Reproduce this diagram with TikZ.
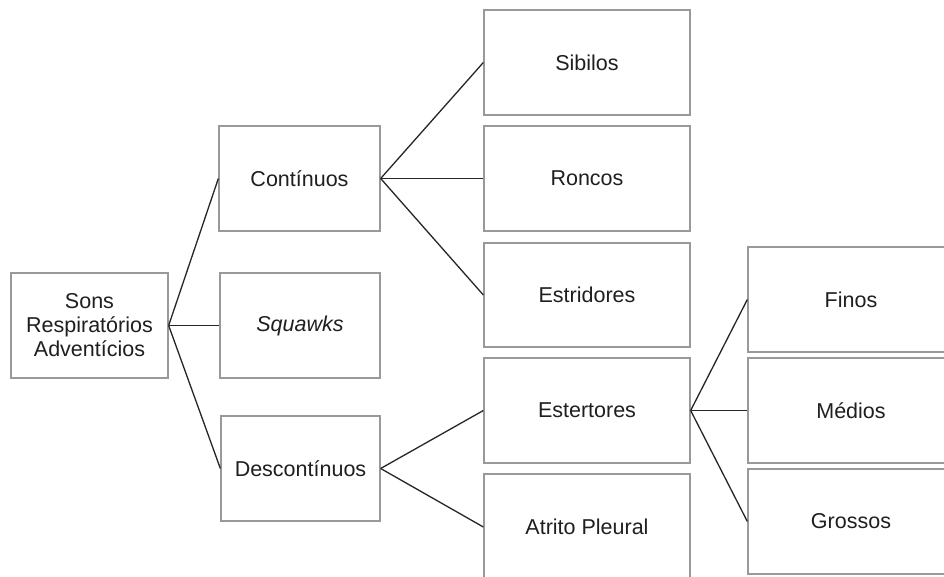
\documentclass[tikz,border=0pt]{standalone}
\usepackage{fontspec}
\setmainfont{Liberation Sans}
\begin{document}
\begin{tikzpicture}[x=1pt,y=-1pt,
  box/.style={draw=black!40,line width=1.3pt,fill=white,inner sep=0pt,align=center,
    font=\fontsize{21.5}{24}\selectfont,text=black!88},
  link/.style={draw=black!85,line width=1.3pt}]
\clip (0,0) rectangle (944,577);
\fill[white] (0,0) rectangle (944,577);
% nodes
\node[box,minimum width=157pt,minimum height=105pt] (root) at (89.5,325.5) {Sons\\Respiratórios\\Adventícios};
\node[box,minimum width=161pt,minimum height=105pt] (cont) at (299.5,178.5) {Contínuos};
\node[box,minimum width=160pt,minimum height=105pt] (squ) at (300,325.5) {\itshape Squawks};
\node[box,minimum width=159pt,minimum height=105pt] (desc) at (300.5,468.5) {Descontínuos};
\node[box,minimum width=206pt,minimum height=105pt] (sib) at (587,62.5) {Sibilos};
\node[box,minimum width=206pt,minimum height=105pt] (ron) at (587,178.5) {Roncos};
\node[box,minimum width=206pt,minimum height=104pt] (estr) at (587,295) {Estridores};
\node[box,minimum width=206pt,minimum height=105pt] (este) at (587,410.5) {Estertores};
\node[box,minimum width=206pt,minimum height=106pt] (atr) at (587,527) {Atrito Pleural};
\node[box,minimum width=206pt,minimum height=105pt] (fin) at (851,299.5) {Finos};
\node[box,minimum width=206pt,minimum height=105pt] (med) at (851,410.5) {Médios};
\node[box,minimum width=206pt,minimum height=105pt] (gro) at (851,521.5) {Grossos};
% connectors
\draw[link] (root.east) -- (cont.west);
\draw[link] (root.east) -- (squ.west);
\draw[link] (root.east) -- (desc.west);
\draw[link] (cont.east) -- (sib.west);
\draw[link] (cont.east) -- (ron.west);
\draw[link] (cont.east) -- (estr.west);
\draw[link] (desc.east) -- (este.west);
\draw[link] (desc.east) -- (atr.west);
\draw[link] (este.east) -- (fin.west);
\draw[link] (este.east) -- (med.west);
\draw[link] (este.east) -- (gro.west);
\end{tikzpicture}
\end{document}
